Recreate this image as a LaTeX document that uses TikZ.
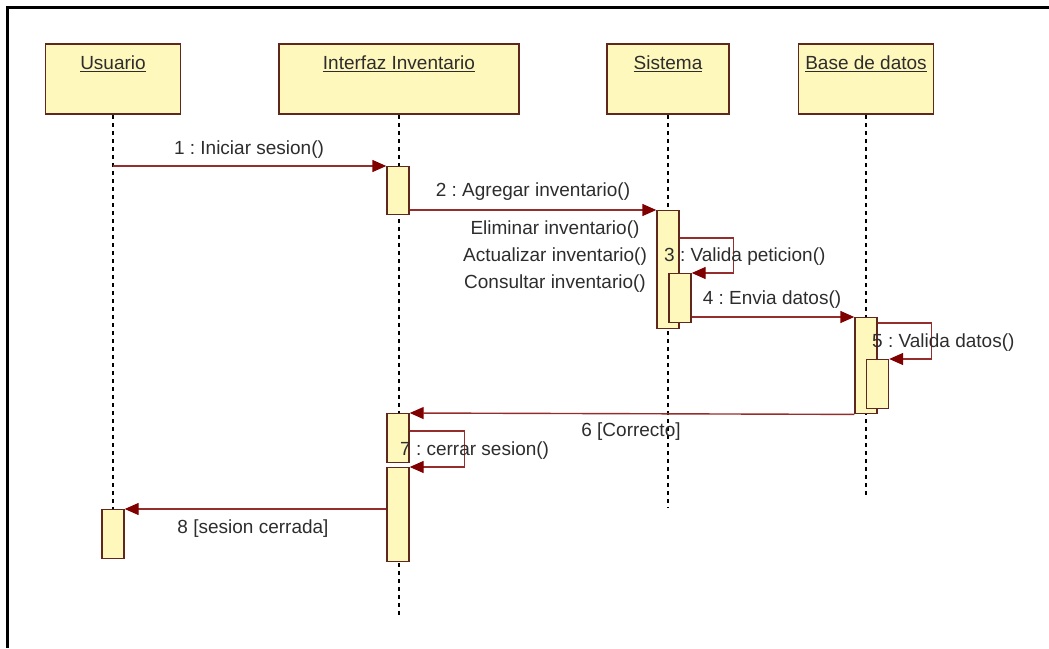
\documentclass[tikz,border=0pt]{standalone}
\usepackage{fontspec}
\setmainfont{Liberation Sans}
\frenchspacing
\usetikzlibrary{arrows.meta}
\definecolor{boxfill}{RGB}{255,248,188}
\definecolor{boxdraw}{RGB}{96,40,28}
\definecolor{msgcol}{RGB}{150,45,45}
\definecolor{tipcol}{RGB}{128,0,0}
\definecolor{txtcol}{RGB}{45,45,45}
\tikzset{
  headbox/.style={draw=boxdraw, fill=boxfill, line width=1.6pt, minimum height=70pt, inner sep=0pt},
  headtxt/.style={text=txtcol, font=\fontsize{19}{23}\selectfont, inner sep=0pt},
  actbox/.style={draw=boxdraw, fill=boxfill, line width=1.4pt, minimum width=22pt, inner sep=0pt},
  lifeline/.style={line width=1.5pt, dash pattern=on 4pt off 4pt, black},
  msg/.style={draw=msgcol, line width=1.4pt, -{Triangle[length=14pt,width=12pt,fill=tipcol,color=tipcol]}},
  msgtxt/.style={text=txtcol, font=\fontsize{19}{27}\selectfont, inner sep=0pt},
}
\begin{document}
\begin{tikzpicture}[x=1pt,y=-1pt]
\useasboundingbox (0,0) rectangle (1049,648);
% frame
\draw[line width=3pt] (1049,7) -- (7,7) -- (7,648);

% heads
\node[headbox, minimum width=135pt] (uh) at (113,79) {};
\node[headbox, minimum width=240pt] (ih) at (399,79) {};
\node[headbox, minimum width=122pt] (sh) at (668,79) {};
\node[headbox, minimum width=135pt] (dh) at (866,79) {};
\node[headtxt] at (113,64) {\underline{Usuario}};
\node[headtxt] at (399,64) {\underline{Interfaz Inventario}};
\node[headtxt] at (668,64) {\underline{Sistema}};
\node[headtxt] at (866,64) {\underline{Base de datos}};

% lifeline ends
\coordinate (ue) at (113,561);
\coordinate (ie) at (399,615);
\coordinate (se) at (668,507);
\coordinate (de) at (866,497);
\draw[lifeline] (uh.south) -- (ue);
\draw[lifeline] (ih.south) -- (ie);
\draw[lifeline] (sh.south) -- (se);
\draw[lifeline] (dh.south) -- (de);

% activations
\node[actbox, minimum height=48pt, anchor=north] (a1) at (398,166) {};
\node[actbox, minimum height=118pt, anchor=north] (s1) at (668,210) {};
\node[actbox, minimum height=49pt, anchor=north] (s2) at (680,273) {};
\node[actbox, minimum height=96pt, anchor=north] (d1) at (866,317) {};
\node[actbox, minimum height=49pt, anchor=north] (d2) at (877.5,359) {};
\node[actbox, minimum height=49pt, anchor=north] (a2) at (398,413) {};
\node[actbox, minimum height=94pt, anchor=north] (a3) at (398,467) {};
\node[actbox, minimum height=49pt, anchor=north] (u1) at (113,509) {};

% messages
\draw[msg] (uh.south |- a1.north) -- (a1.north west);
\node[msgtxt] (l1) at (249,150) {1 : Iniciar sesion()};

\draw[msg] (a1.east |- s1.north) -- (s1.north west);
\node[msgtxt] (l2) at (533,192) {2 : Agregar inventario()};
\node[msgtxt, align=center] (l2b) at (555,257) {Eliminar inventario()\\Actualizar inventario()\\Consultar inventario()};

\draw[msg] (s1.east |- 0,238) -- ++(54,0) |- (s2.north east);
\node[msgtxt, anchor=west] (l3) at (664,257) {3 : Valida peticion()};

\draw[msg] (s2.east |- d1.north) -- (d1.north west);
\node[msgtxt] (l4) at (772,300) {4 : Envia datos()};

\draw[msg] (d1.east |- 0,323) -- ++(54,0) |- (d2.north east);
\node[msgtxt, anchor=west] (l5) at (872,343) {5 : Valida datos()};

\draw[msg] (d1.south west) -- (a2.north east);
\node[msgtxt] (l6) at (631,432) {6 [Correcto]};

\draw[msg] (a2.east |- 0,431) -- ++(55,0) |- (a3.north east);
\node[msgtxt, anchor=west] (l7) at (400,451) {7 : cerrar sesion()};

\draw[msg] (a3.west |- u1.north) -- (u1.north east);
\node[msgtxt] (l8) at (253,529) {8 [sesion cerrada]};
\end{tikzpicture}
\end{document}
